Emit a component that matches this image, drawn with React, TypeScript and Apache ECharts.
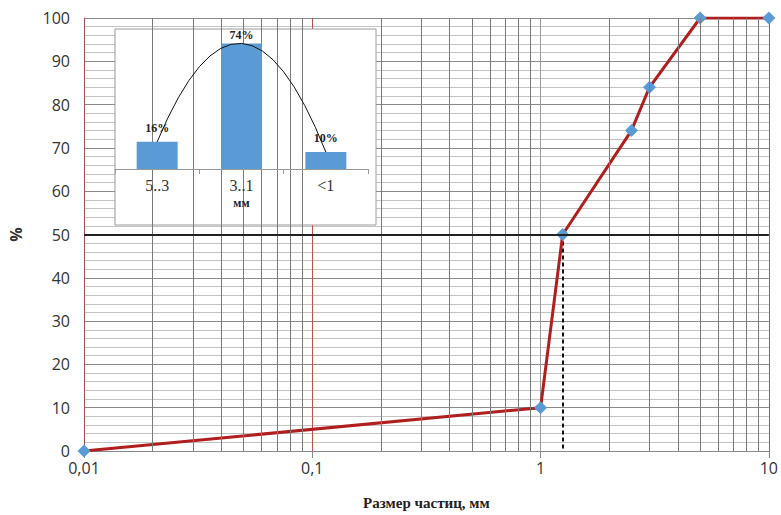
import React, { useEffect, useRef } from "react";
import * as echarts from "echarts";

// Main curve: particle size (mm) vs cumulative %
const sizes = [0.01, 1, 1.25, 2.5, 3, 5, 10];
const percents = [0, 10, 50, 74, 84, 100, 100];
const medianSize = 1.25;
const medianLevel = 50;
// Log-axis intermediate gridlines
const minorX = [0.02, 0.03, 0.04, 0.05, 0.06, 0.07, 0.08, 0.09, 0.2, 0.3, 0.4, 0.5, 0.6, 0.7, 0.8, 0.9, 2, 3, 4, 5, 6, 7, 8, 9];
const yTicks = [0, 10, 20, 30, 40, 50, 60, 70, 80, 90, 100];

// Inset histogram
const insetCats = ["5..3", "3..1", "<1"];
const insetValues = [16, 74, 10];

export default function App() {
  const ref = useRef<HTMLDivElement>(null);
  useEffect(() => {
    if (!ref.current) return;
    const chart = echarts.init(ref.current, null, { renderer: "svg" });
    const serif = "'Liberation Serif', 'DejaVu Serif', serif";
    const sans = "'Open Sans', 'Liberation Sans', sans-serif";
    const option: any = {
      animation: false,
      backgroundColor: "#fff",
      grid: [
        { left: 82, right: 8, top: 18, bottom: 61 },
        { left: 115, width: 253, top: 40, height: 129 },
      ],
      graphic: [
        {
          type: "rect",
          z: 2,
          shape: { x: 115, y: 29, width: 261, height: 196 },
          style: { fill: "#fff", stroke: "#9a9a9a", lineWidth: 1 },
        },
      ],
      xAxis: [
        {
          type: "log",
          logBase: 10,
          min: 0.01,
          max: 10,
          gridIndex: 0,
          axisLine: { show: true, lineStyle: { color: "#888", width: 1 } },
          axisTick: { show: true, length: 7, inside: false, lineStyle: { color: "#888" } },
          axisLabel: {
            fontFamily: sans,
            fontSize: 16,
            color: "#333",
            margin: 9,
            formatter: (v: number) => String(Number(v.toPrecision(3))).replace(".", ","),
          },
          splitLine: {
            show: true,
            lineStyle: { color: ["#b94a48", "#c0504d", "#9a9a9a", "#c0504d"], width: 1 },
          },
          name: "Размер частиц, мм",
          nameLocation: "middle",
          nameGap: 44,
          nameTextStyle: { fontFamily: serif, fontWeight: "bold", fontSize: 15, color: "#222" },
        },
        {
          type: "category",
          gridIndex: 1,
          data: insetCats,
          z: 5,
          axisLine: { show: true, lineStyle: { color: "#999" } },
          axisTick: { show: true, alignWithLabel: false, length: 5, lineStyle: { color: "#999" } },
          axisLabel: { fontFamily: serif, fontSize: 16, color: "#333", margin: 8 },
          name: "мм",
          nameLocation: "middle",
          nameGap: 28,
          nameTextStyle: { fontFamily: serif, fontWeight: "bold", fontSize: 12, color: "#222" },
        },
      ],
      yAxis: [
        {
          type: "value",
          gridIndex: 0,
          min: 0,
          max: 100,
          interval: 10,
          axisLine: { show: true, lineStyle: { color: "#a05050", width: 1 } },
          axisTick: { show: false },
          axisLabel: { fontFamily: sans, fontSize: 16, color: "#333", margin: 14 },
          splitLine: { show: true, lineStyle: { color: "#8a8a8a", width: 1 } },
          minorTick: { show: false, splitNumber: 5 },
          minorSplitLine: { show: true, lineStyle: { color: "#c4c4c4", width: 1 } },
          name: "%",
          nameLocation: "middle",
          nameGap: 60,
          nameRotate: 90,
          nameTextStyle: { fontFamily: sans, fontWeight: "bold", fontSize: 16, color: "#333" },
        },
        {
          type: "value",
          gridIndex: 1,
          min: 0,
          max: 76,
          show: false,
          splitLine: { show: false },
        },
      ],
      series: [
        {
          type: "line",
          xAxisIndex: 0,
          yAxisIndex: 0,
          data: [],
          z: 1,
          silent: true,
          markLine: {
            silent: true,
            symbol: "none",
            label: { show: false },
            animation: false,
            lineStyle: { color: "#7a7a7a", width: 1, type: "solid" },
            data: [
              ...minorX.map((v) => ({ xAxis: v })),
              { yAxis: medianLevel, lineStyle: { color: "#222", width: 2, type: "solid" } },
            ],
          },
        },
        {
          type: "line",
          xAxisIndex: 0,
          yAxisIndex: 0,
          z: 3,
          data: sizes.map((s, i) => [s, percents[i]]),
          lineStyle: { color: "#b01e1e", width: 3 },
          symbol: "diamond",
          symbolSize: 13,
          itemStyle: { color: "#5b9bd5" },
          markLine: {
            silent: true,
            symbol: "none",
            label: { show: false },
            animation: false,
            z: 2,
            lineStyle: { color: "#111", width: 2, type: [4, 3] },
            data: [[{ coord: [medianSize, medianLevel] }, { coord: [medianSize, yTicks[0]] }]],
          },
        },
        {
          type: "bar",
          xAxisIndex: 1,
          yAxisIndex: 1,
          z: 5,
          barWidth: 41,
          itemStyle: { color: "#5b9bd5" },
          data: insetValues.map((v, i) => ({
            value: v,
            label: i === 1 ? { offset: [0, 6] } : undefined,
          })),
          label: {
            show: true,
            position: "top",
            distance: 8,
            fontFamily: serif,
            fontWeight: "bold",
            fontSize: 12,
            color: "#222",
            formatter: (p: any) => p.value + "%",
          },
        },
        {
          type: "custom",
          xAxisIndex: 1,
          yAxisIndex: 1,
          z: 6,
          silent: true,
          data: [0],
          renderItem: (params: any, api: any) => {
            const p0 = api.coord([0, insetValues[0]]);
            const p1 = api.coord([1, insetValues[1]]);
            const p2 = api.coord([2, insetValues[2]]);
            const cy = 2 * p1[1] - (p0[1] + p2[1]) / 2;
            const cx = 2 * p1[0] - (p0[0] + p2[0]) / 2;
            return {
              type: "bezierCurve",
              shape: { x1: p0[0], y1: p0[1], x2: p2[0], y2: p2[1], cpx1: cx, cpy1: cy },
              style: { stroke: "#111", fill: "none", lineWidth: 1 },
            };
          },
        },
      ],
    };
    chart.setOption(option);
    return () => chart.dispose();
  }, []);
  return <div ref={ref} style={{ width: 781, height: 515, position: "absolute", left: 0, top: 0 }} />;
}
